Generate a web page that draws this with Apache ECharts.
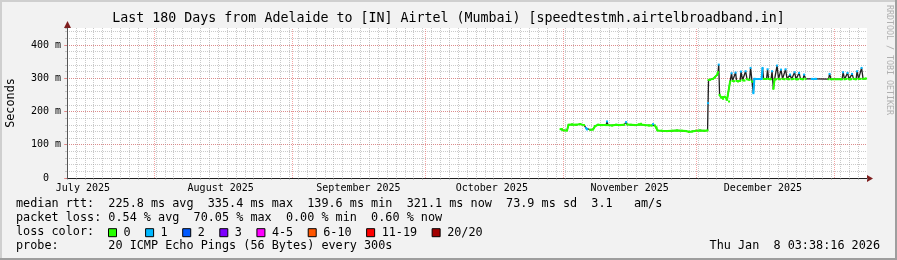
<!DOCTYPE html>
<html><head><meta charset="utf-8">
<script src="https://cdn.jsdelivr.net/npm/echarts@6/dist/echarts.min.js"></script>
<style>html,body{margin:0;padding:0;background:#f2f2f2}#c{width:897px;height:260px}</style>
</head><body><div id="c"></div>
<script>
// x values: days since 2025-06-30 00:00 (Adelaide)
const days = [123.47,123.80,124.14,124.93,125.27,126.06,126.96,127.86,128.76,129.21,129.43,130.11,130.78,131.23,131.91,132.81,133.71,133.93,134.16,135.06,135.96,136.86,137.76,138.21,138.43,139.33,140.23,141.13,141.58,142.48,143.38,144.06,144.28,144.73,145.07,145.29,146.31,147.43,148.56,149.68,150.81,151.71,152.38,153.06,153.96,154.86,155.76,156.55,156.66,156.77,157.11,157.78,158.23,158.68,158.91,159.06,159.25,159.58,160.03,160.48,160.93,161.38,161.61,161.95,162.17,162.51,162.85,163.07,163.41,163.86,164.08,164.42,164.87,165.10,165.43,165.99,166.22,166.56,166.85,167.07,167.23,168.70,168.92,169.15,169.82,170.05,170.27,170.83,171.06,171.35,171.62,171.96,172.18,172.52,172.86,173.08,173.42,173.87,174.10,174.43,174.88,175.11,175.45,175.90,176.12,176.46,176.91,177.14,177.47,178.04,178.26,178.60,180.00,180.74,181.00,183.77,184.00,184.34,186.81,187.04,187.37,187.82,188.05,188.39,188.84,189.06,189.40,189.96,190.19,190.52,190.97,191.20,191.54,192.21];
// median rtt in ms
const medianMs = [147,147,143,143,160,161,160,162,159,150,146,145,146,156,160,159,159,170,159,158,160,159,160,168,161,160,159,161,163,159,158,158,162,158,152,143,142,141,142,143,142,141,139,140,142,143,142,143,225,295,295,298,303,310,318,341,250,242,238,244,235,230,290,315,292,291,317,292,290,292,320,294,293,321,297,295,331,290,255,298,298,298,331,298,298,327,298,297,321,268,296,297,338,298,297,326,298,297,327,298,297,311,297,298,318,297,297,316,298,297,311,298,298,298,298,297,313,297,297,318,297,298,316,297,297,313,298,297,321,298,298,331,298,299];
// lost pings (of 20)
const lossPings = [0,0,0,0,0,0,0,0,0,1,1,0,0,0,0,0,0,1,0,0,0,0,0,1,0,0,0,0,0,0,0,0,1,0,0,0,0,0,0,0,0,0,0,0,0,0,0,0,1,0,0,0,0,0,0,1,0,0,0,0,0,0,0,1,0,0,1,0,0,0,1,0,0,1,0,0,1,0,1,1,1,1,1,0,0,1,0,0,1,0,0,0,1,0,0,1,0,0,1,0,0,1,0,0,1,0,0,1,0,0,1,0,1,1,1,0,1,0,0,1,0,0,1,0,0,1,0,0,1,0,0,1,0,0];

const lossBucketNames = ['0','1','2','3','4-5','6-10','11-19','20/20'];
const lossBucketLo = [0,1,2,3,4,6,11,20];
const lossBucketHi = [0,1,2,3,5,10,19,20];
const lossColors = ['#26ff00','#00b8ff','#0059ff','#7e00ff','#ff00ff','#ff5500','#ff0000','#a10000'];

const monthStarts = [32,63,93,124,154,185];
const monthLabelPos = [16,47,78,108,139,169];
const monthLabels = ['July 2025','August 2025','September 2025','October 2025','November 2025','December 2025'];
const yTickValues = [0,100,200,300,400];
const yTickLabels = ['0  ','100 m','200 m','300 m','400 m'];

const titleText = 'Last 180 Days from Adelaide to [IN] Airtel (Mumbai) [speedtestmh.airtelbroadband.in]';
const legendLines = [
  'median rtt:  225.8 ms avg  335.4 ms max  139.6 ms min  321.1 ms now  73.9 ms sd  3.1   am/s',
  'packet loss: 0.54 % avg  70.05 % max  0.00 % min  0.60 % now',
  'loss color:',
  'probe:       20 ICMP Echo Pings (56 Bytes) every 300s'
];
const stampText = 'Thu Jan  8 03:38:16 2026';
const watermark = 'RRDTOOL / TOBI OETIKER';

const mono = '"DejaVu Sans Mono", monospace';
const chart = echarts.init(document.getElementById('c'), null, {renderer:'canvas'});

const X0 = 12.42, X1 = 192.42, YMAX = 451;
const gridGray = 'rgba(150,150,150,0.5)';
const gridRed = 'rgba(235,90,90,0.55)';

const medianLine = {
  name: 'median', type: 'line', data: days.map((d,i)=>[d, medianMs[i]]),
  showSymbol: false, silent: true, animation: false, z: 2,
  lineStyle: {color:'#202020', width:1.3},
  markLine: {
    silent: true, symbol: 'none', label: {show:false}, animation:false,
    lineStyle: {color: gridRed, width: 1, type: [1,1]},
    data: monthStarts.map(v=>({xAxis: v}))
  }
};
const bucketSeries = lossBucketNames.map((name,k)=>({
  name, type: 'line', silent: true, animation: false, z: 3,
  data: days.map((d,i)=> (lossPings[i]>=lossBucketLo[k] && lossPings[i]<=lossBucketHi[k]) ? [d, medianMs[i]] : [d, '-']),
  showSymbol: true, showAllSymbol: true, symbol: 'rect', symbolSize: 2,
  connectNulls: false,
  lineStyle: {color: lossColors[k], width: 2},
  itemStyle: {color: lossColors[k]}
}));

const option = {
  backgroundColor: '#f2f2f2',
  animation: false,
  textStyle: {fontFamily: mono},
  grid: {left: 67, right: 30, top: 28, bottom: 82, show: true, backgroundColor: '#ffffff', borderWidth: 0},
  xAxis: [{
    type: 'value', min: X0, max: X1, interval: 2,
    axisLine: {show: true, lineStyle: {color: '#1f1f1f', width: 1}},
    axisTick: {show: true, length: 2, lineStyle: {color: gridGray}},
    splitLine: {show: true, showMinLine: false, showMaxLine: false, lineStyle: {color: gridGray, type: [1,1]}},
    axisLabel: {
      show: true, customValues: monthLabelPos, margin: 5,
      fontFamily: mono, fontSize: 10, color: '#000',
      formatter: v => { const i = monthLabelPos.indexOf(v); return i >= 0 ? monthLabels[i] : ''; }
    }
  }],
  yAxis: [{
    type: 'value', min: 0, max: YMAX, interval: 20,
    axisLine: {show: false}, axisLabel: {show: false},
    axisTick: {show: true, length: 2, lineStyle: {color: gridGray}},
    splitLine: {show: true, showMinLine: false, showMaxLine: false, lineStyle: {color: gridGray, type: [1,1]}}
  }, {
    type: 'value', min: 0, max: YMAX, interval: 100, position: 'left', offset: 0,
    axisLine: {show: true, onZero: false, lineStyle: {color: '#444444', width: 1}},
    axisTick: {show: true, length: 3, lineStyle: {color: gridRed}},
    splitLine: {show: true, showMinLine: false, showMaxLine: false, lineStyle: {color: gridRed, type: [1,1]}},
    axisLabel: {
      show: true, margin: 6, fontFamily: mono, fontSize: 10, color: '#000',
      showMaxLabel: false,
      formatter: v => { const i = yTickValues.indexOf(v); return i >= 0 ? yTickLabels[i] : ''; }
    }
  }],
  legend: {
    left: 108, top: 226.7, padding: 0, itemWidth: 8, itemHeight: 8, itemGap: 14.5, icon: 'rect',
    selectedMode: false, data: lossBucketNames,
    itemStyle: {borderColor: '#000', borderWidth: 1},
    lineStyle: {width: 0},
    textStyle: {fontFamily: mono, fontSize: 11.8, color: '#000', padding: [0,0,0,2]}
  },
  series: [medianLine].concat(bucketSeries),
  graphic: [
    {type:'rect', shape:{x:0,y:0,width:897,height:2}, style:{fill:'#cfcfcf'}, silent:true},
    {type:'rect', shape:{x:0,y:0,width:2,height:260}, style:{fill:'#cfcfcf'}, silent:true},
    {type:'rect', shape:{x:0,y:258,width:897,height:2}, style:{fill:'#9e9e9e'}, silent:true},
    {type:'rect', shape:{x:895,y:0,width:2,height:260}, style:{fill:'#9e9e9e'}, silent:true},
    {type:'line', shape:{x1:67.5,y1:28,x2:67.5,y2:178}, style:{stroke:'#555555', lineWidth:1}, z:10, silent:true},
    {type:'line', shape:{x1:867,y1:178.5,x2:869,y2:178.5}, style:{stroke:'#1f1f1f', lineWidth:1}, silent:true},
    {type:'polygon', shape:{points:[[867,175],[867,182],[873,178.5]]}, style:{fill:'#7f1f1f'}, silent:true},
    {type:'polygon', shape:{points:[[64,28],[71,28],[67.5,21]]}, style:{fill:'#7f1f1f'}, silent:true},
    {type:'text', x:448.5, y:19, style:{text:titleText, font:'13.3px ' + mono, fill:'#000', align:'center', verticalAlign:'middle'}, silent:true},
    {type:'text', x:11, y:103, rotation:Math.PI/2, style:{text:'Seconds', font:'11.8px ' + mono, fill:'#000', align:'center', verticalAlign:'middle'}, silent:true},
    {type:'text', x:889, y:60, rotation:-Math.PI/2, style:{text:watermark, font:'8.3px ' + mono, fill:'#b0b0b0', align:'center', verticalAlign:'middle'}, silent:true},
    {type:'text', x:16, y:204.3, style:{text:legendLines[0], font:'11.8px ' + mono, fill:'#000', verticalAlign:'middle'}, silent:true},
    {type:'text', x:16, y:218.3, style:{text:legendLines[1], font:'11.8px ' + mono, fill:'#000', verticalAlign:'middle'}, silent:true},
    {type:'text', x:16, y:232.3, style:{text:legendLines[2], font:'11.8px ' + mono, fill:'#000', verticalAlign:'middle'}, silent:true},
    {type:'text', x:16, y:246.3, style:{text:legendLines[3], font:'11.8px ' + mono, fill:'#000', verticalAlign:'middle'}, silent:true},
    {type:'text', x:880, y:246.3, style:{text:stampText, font:'11.8px ' + mono, fill:'#000', align:'right', verticalAlign:'middle'}, silent:true}
  ]
};
chart.setOption(option);
</script></body></html>
